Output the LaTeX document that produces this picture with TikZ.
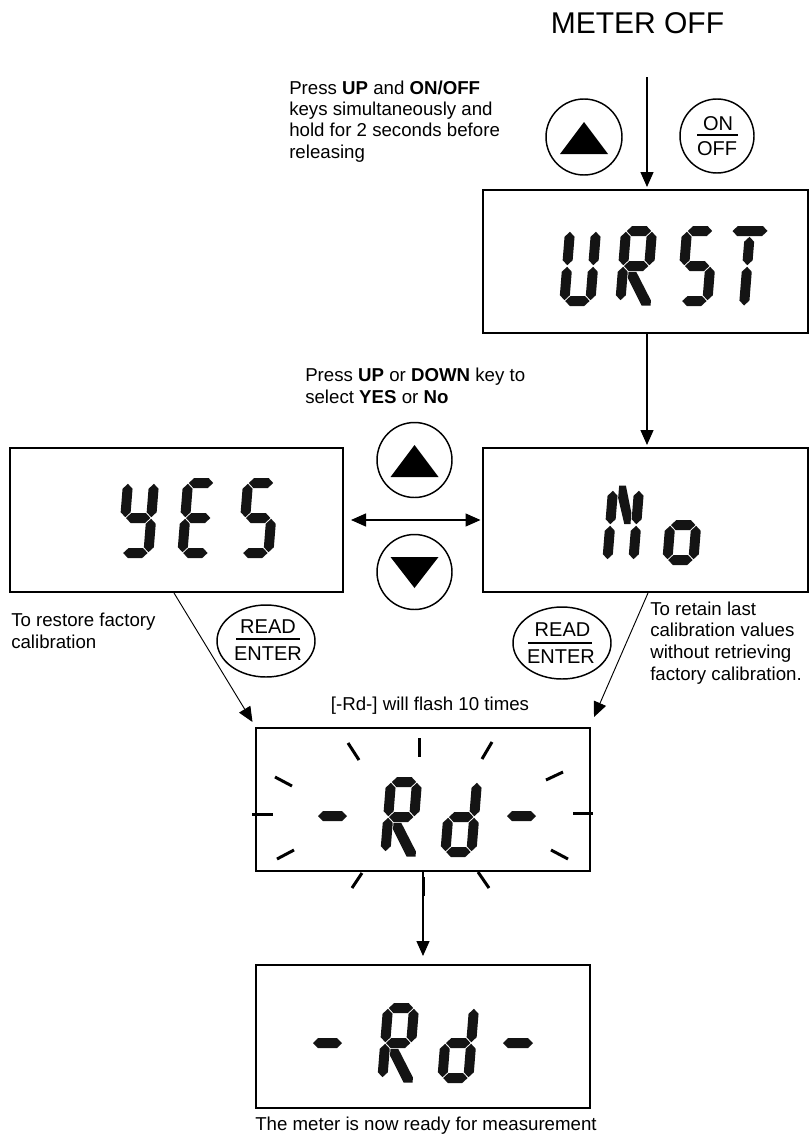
\documentclass[tikz,border=0pt]{standalone}
\usepackage{fontspec}
\setmainfont{Liberation Sans}
\usetikzlibrary{arrows.meta,calc,shapes.geometric}
\def\px{0.75pt}
% LCD segments (local coordinates, y upwards)
\newcommand\lcdh[3]{\fill[lcdseg] (#1,#3) -- (#1+5,#3+5) -- (#2-5,#3+5) -- (#2,#3) -- (#2-5,#3-5) -- (#1+5,#3-5) -- cycle;}
\newcommand\lcdv[3]{\fill[lcdseg] (#1,#2) -- (#1+5,#2+5) -- (#1+5,#3-5) -- (#1,#3) -- (#1-5,#3-5) -- (#1-5,#2+5) -- cycle;}
\expandafter\def\csname lcdsega\endcsname{\lcdh{5.8}{30.2}{75}}
\expandafter\def\csname lcdsegg\endcsname{\lcdh{5.8}{30.2}{40}}
\expandafter\def\csname lcdsegd\endcsname{\lcdh{5.8}{30.2}{5}}
\expandafter\def\csname lcdsegf\endcsname{\lcdv{5}{40.8}{74.2}}
\expandafter\def\csname lcdsege\endcsname{\lcdv{5}{5.8}{39.2}}
\expandafter\def\csname lcdsegb\endcsname{\lcdv{31}{40.8}{74.2}}
\expandafter\def\csname lcdsegc\endcsname{\lcdv{31}{5.8}{39.2}}
\expandafter\def\csname lcdsegA\endcsname{\lcdh{0.5}{35.5}{75}}
\expandafter\def\csname lcdsegt\endcsname{\lcdv{18}{40.8}{69.2}\lcdv{18}{0.5}{39.2}}
\expandafter\def\csname lcdsegr\endcsname{\fill[lcdseg] (10.8,34.2) -- (18.5,34.2) -- (35.5,5.5) -- (35.5,0.5) -- (26.5,0.5) -- (10.8,27.5) -- cycle;}
\expandafter\def\csname lcdsegn\endcsname{\fill[lcdseg] (10.8,79.5) -- (17.5,79.5) -- (25.2,52) -- (25.2,41) -- (19,41) -- (10.8,67) -- cycle;}
\newcommand\lcdglyph[3]{\begin{scope}[shift={(#1,#2)},y=0.75pt,xslant=0.08]\foreach \s in {#3}{\csname lcdseg\s\endcsname}\end{scope}}
\newcommand\lcddash[3]{\fill[lcdseg] (#1,#3) -- (#1+5,#3-5) -- (#2-5,#3-5) -- (#2,#3) -- (#2-5,#3+5) -- (#1+5,#3+5) -- cycle;}
\tikzset{
  lcdseg/.style={fill=black!92},
  lcdbox/.style={draw, line width=1.5pt, inner sep=0pt},
  btn/.style={draw, circle, line width=1.1pt, inner sep=0pt},
  keyoval/.style={draw, ellipse, line width=1.1pt, inner sep=0pt, minimum width=98*\px, minimum height=72*\px},
  txt/.style={inner sep=0pt, font=\fontsize{14}{16}\selectfont},
  keytxt/.style={inner sep=0pt, anchor=base, font=\fontsize{15}{18}\selectfont},
  arr/.style={-{Triangle[length=11.25pt,width=9.75pt]}, line width=1pt},
  darr/.style={{Triangle[length=11.25pt,width=9.75pt]}-{Triangle[length=11.25pt,width=9.75pt]}, line width=1pt},
  thinarr/.style={-{Triangle[length=11.25pt,width=9.75pt]}, line width=0.7pt},
  flashtick/.style={line width=2.25pt},
}
\begin{document}
\begin{tikzpicture}[x=0.75pt,y=-0.75pt]
\fill[white] (0,0) rectangle (811,1142);
\useasboundingbox (0,0) rectangle (811,1142);

% title
\node[inner sep=0pt, anchor=base, font=\fontsize{22.5}{27}\selectfont] (title) at (637.5,33.3) {METER OFF};
\coordinate (start) at (647,77);

% instruction 1
\node[txt, anchor=base west] (i1a) at (289,94) {Press \textbf{UP} and \textbf{ON/OFF}};
\node[txt, anchor=base west] (i1b) at (289,115.3) {keys simultaneously and};
\node[txt, anchor=base west] (i1c) at (289,136.7) {hold for 2 seconds before};
\node[txt, anchor=base west] (i1d) at (289,158) {releasing};

% top keys
\node[btn, minimum size=76*\px] (up1) at (584,137) {};
\fill ($(up1)+(0,-15)$) -- ($(up1)+(24,17)$) -- ($(up1)+(-24,17)$) -- cycle;
\node[btn, minimum size=74*\px] (onoff) at (717,136) {};
\node[keytxt] (onT) at (718,130.7) {ON};
\draw[line width=1.4pt] (697,135) -- (738,135);
\node[keytxt] (offT) at (717,155) {OFF};

% URST display
\node[lcdbox, minimum width=325*\px, minimum height=143*\px] (urst) at (645.5,261.5) {};
\lcdglyph{559}{306}{f,e,d,c,b}
\lcdglyph{615}{306}{a,f,b,g,e,r}
\lcdglyph{676}{306}{a,f,g,c,d}
\lcdglyph{726}{306}{A,t}

\draw[arr, shorten >=2*\px] (start) -- (start |- urst.north);

% instruction 2
\node[txt, anchor=base west] (i2a) at (305,381.7) {Press \textbf{UP} or \textbf{DOWN} key to};
\node[txt, anchor=base west] (i2b) at (305,403.3) {select \textbf{YES} or \textbf{No}};

% YES / No displays
\node[lcdbox, minimum width=333*\px, minimum height=144*\px] (yes) at (176.5,520) {};
\lcdglyph{117}{558}{f,b,g,c,d}
\lcdglyph{177}{558}{a,f,g,e,d}
\lcdglyph{237}{558}{a,f,g,c,d}
\node[lcdbox, minimum width=325*\px, minimum height=144*\px] (no) at (645.5,520) {};
\lcdglyph{602}{565}{f,e,b,c,n}
\lcdglyph{662}{565}{g,e,c,d}

\draw[arr, shorten >=2*\px] (start |- urst.south) -- (start |- no.north);

% up/down keys
\node[btn, minimum size=75*\px] (up2) at (414.5,460) {};
\fill ($(up2)+(0,-15)$) -- ($(up2)+(24,17)$) -- ($(up2)+(-24,17)$) -- cycle;
\node[btn, minimum size=75*\px] (down2) at (414.5,572) {};
\fill ($(down2)+(0,16)$) -- ($(down2)+(24,-15)$) -- ($(down2)+(-24,-15)$) -- cycle;
\draw[darr, shorten <=7*\px, shorten >=1.5*\px] (yes.east) -- (no.west);

% notes
\node[txt, anchor=base west] (n1a) at (11,626.7) {To restore factory};
\node[txt, anchor=base west] (n1b) at (11,648.3) {calibration};
\node[txt, anchor=base west] (n2a) at (650,615) {To retain last};
\node[txt, anchor=base west] (n2b) at (650,636.7) {calibration values};
\node[txt, anchor=base west] (n2c) at (650,658.3) {without retrieving};
\node[txt, anchor=base west] (n2d) at (650,680) {factory calibration.};

% READ/ENTER keys
\node[keyoval] (readL) at (266,641) {};
\node[keytxt] (readLa) at (268,633) {READ};
\draw[line width=1.5pt] (236,639) -- (300,639);
\node[keytxt] (readLb) at (268,660) {ENTER};
\node[keyoval] (readR) at (562,643) {};
\node[keytxt] (readRa) at (562.5,636.5) {READ};
\draw[line width=1.5pt] (528,643) -- (592,643);
\node[keytxt] (readRb) at (561,663) {ENTER};

% flashing display
\node[txt, anchor=base] (flashT) at (430,710.7) {[-Rd-] will flash 10 times};
\node[lcdbox, minimum width=334*\px, minimum height=143*\px] (flash) at (423,799.5) {};
\lcddash{318}{347}{816}
\lcdglyph{380}{857}{a,f,b,g,e,r}
\lcdglyph{440}{857}{b,c,d,e,g}
\lcddash{507}{536}{816}
\draw[flashtick] (348,743) -- (359,760);
\draw[flashtick] (419,738) -- (419,757);
\draw[flashtick] (492,742) -- (482,759);
\draw[flashtick] (275,777) -- (292,786);
\draw[flashtick] (563,772) -- (546,780);
\draw[flashtick] (252,814) -- (273,814);
\draw[flashtick] (573,813) -- (593,813);
\draw[flashtick] (277,859) -- (294,850);
\draw[flashtick] (551,850) -- (568,859);
\draw[flashtick] (362,873) -- (352,888);
\draw[flashtick] (423,877) -- (423,896);
\draw[flashtick] (478,872) -- (489,888);

\draw[thinarr] ($(yes.south)+(-2.5,0)$) -- ($(flash.north west)+(-2.5,-5)$);
\draw[thinarr] ($(no.south)+(2.5,0)$) -- ($(flash.north east)+(3,-10)$);

% final display
\node[lcdbox, minimum width=334*\px, minimum height=143*\px] (final) at (423,1036.5) {};
\lcddash{313}{342}{1043}
\lcdglyph{377}{1083}{a,f,b,g,e,r}
\lcdglyph{437}{1083}{b,c,d,e,g}
\lcddash{503}{533}{1043}
\draw[arr, shorten >=8*\px] (flash.south) -- (final.north);
\node[txt, anchor=base] (ready) at (426,1130) {The meter is now ready for measurement};
\end{tikzpicture}
\end{document}
